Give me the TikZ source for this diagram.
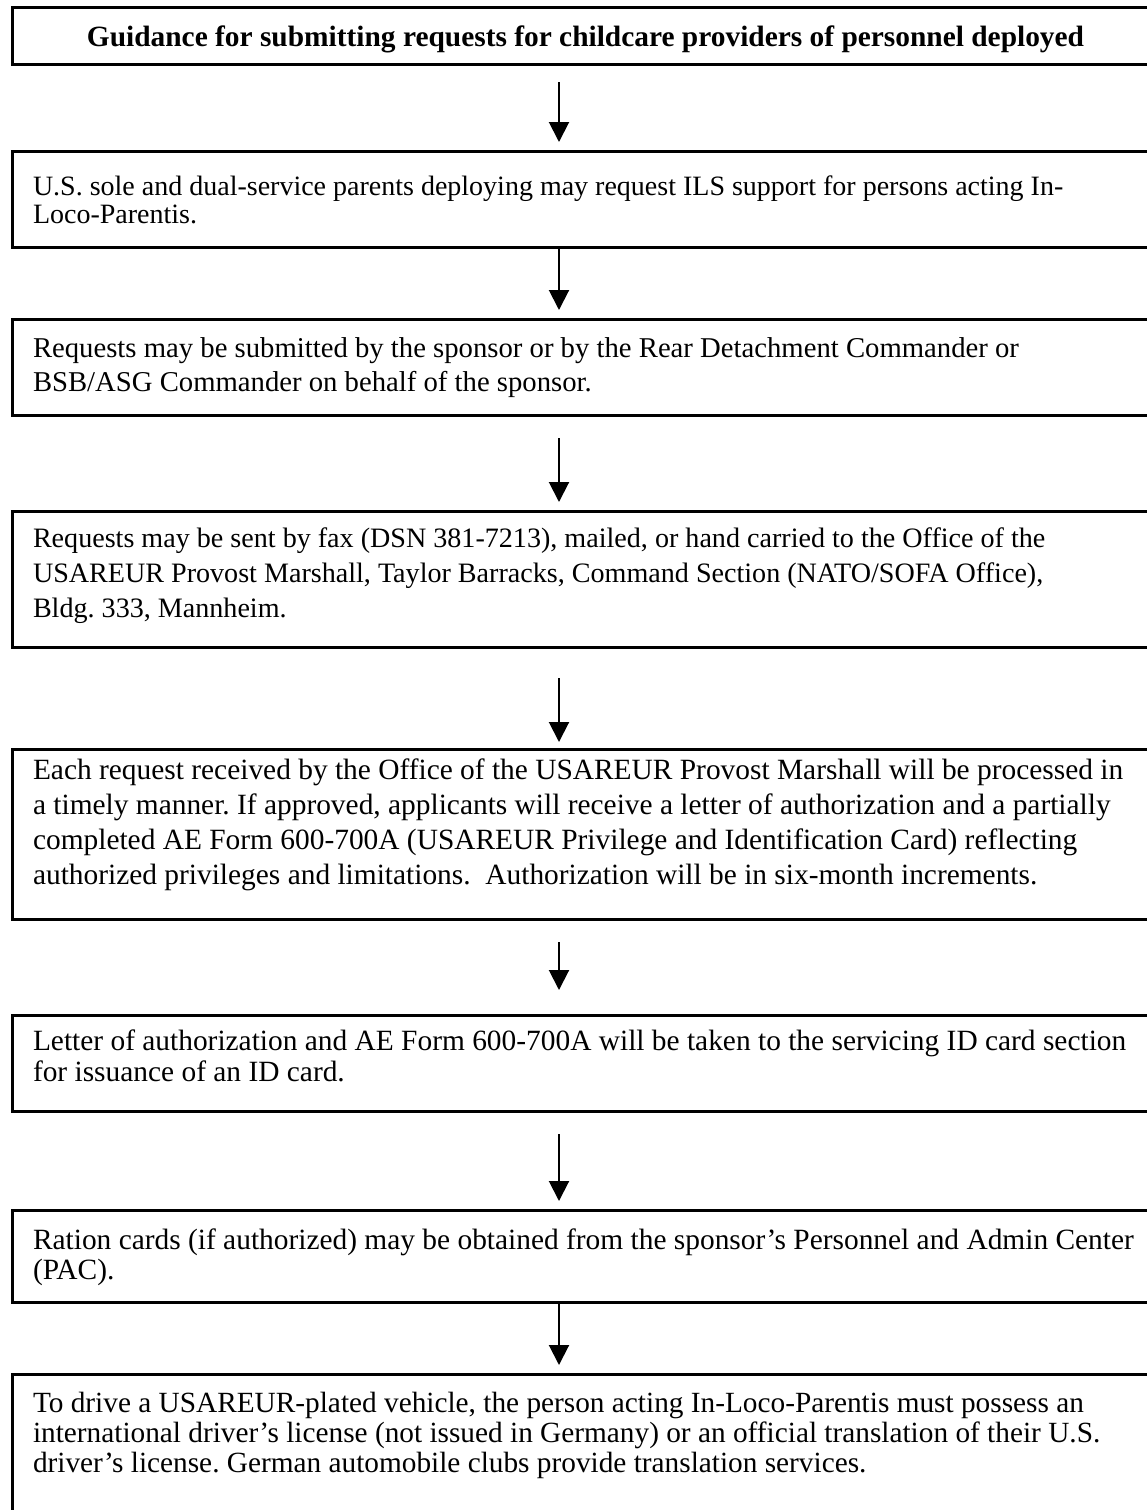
\documentclass[tikz,border=0pt]{standalone}
\usepackage{fontspec}
\setmainfont{Liberation Serif}
\usetikzlibrary{arrows.meta}
\frenchspacing

% flow chart of the ILS request procedure
\tikzset{
  stepbox/.style={draw, line width=3pt, rectangle, inner sep=0pt, outer sep=0pt,
    minimum width=1147pt, anchor=north west},
  steptext/.style={anchor=base west, inner sep=0pt, outer sep=0pt},
  flow/.style={line width=2pt, -{Triangle[length=20pt, width=20pt]}},
}
% #1 font size, #2 line distance, #3 lines
\newcommand{\boxtext}[3]{\parbox[t]{1120pt}{\fontsize{#1}{#2}\selectfont #3}}

\begin{document}
\begin{tikzpicture}[x=1pt, y=-1pt]
  \useasboundingbox (0,0) rectangle (1147,1510);
  \fill[white] (0,0) rectangle (1147,1510);
  \clip (0,0) rectangle (1147,1510);

  \coordinate (ax) at (559,0);

  % boxes
  \node[stepbox, minimum height=57pt]  (b1) at (12,7)    {};
  \node[stepbox, minimum height=96pt]  (b2) at (12,151)  {};
  \node[stepbox, minimum height=96pt]  (b3) at (12,319)  {};
  \node[stepbox, minimum height=136pt] (b4) at (12,511)  {};
  \node[stepbox, minimum height=170pt] (b5) at (12,749)  {};
  \node[stepbox, minimum height=96pt]  (b6) at (12,1015) {};
  \node[stepbox, minimum height=92pt]  (b7) at (12,1210) {};
  \node[stepbox, minimum height=170pt] (b8) at (12,1374) {};

  % texts
  \node[inner sep=0pt, anchor=base] (t1) at (585.5,46)
    {\fontsize{29.4}{34}\selectfont\bfseries Guidance for submitting requests for childcare providers of personnel deployed};
  \node[steptext] (t2) at (33,195) {\boxtext{28}{28}{U.S. sole and dual-service parents deploying may request ILS support for persons acting In-\\Loco-Parentis.}};
  \node[steptext] (t3) at (33,357) {\boxtext{28.7}{34}{Requests may be submitted by the sponsor or by the Rear Detachment Commander or\\BSB/ASG Commander on behalf of the sponsor.}};
  \node[steptext] (t4) at (33,547) {\boxtext{28.1}{35}{Requests may be sent by fax (DSN 381-7213), mailed, or hand carried to the Office of the\\USAREUR Provost Marshall, Taylor Barracks, Command Section (NATO/SOFA Office),\\Bldg. 333, Mannheim.}};
  \node[steptext] (t5) at (33,779) {\boxtext{29.4}{35}{Each request received by the Office of the USAREUR Provost Marshall will be processed in\\a timely manner. If approved, applicants will receive a letter of authorization and a partially\\completed AE Form 600-700A (USAREUR Privilege and Identification Card) reflecting\\authorized privileges and limitations.\ \ Authorization will be in six-month increments.}};
  \node[steptext] (t6) at (33,1050) {\boxtext{29.4}{31}{Letter of authorization and AE Form 600-700A will be taken to the servicing ID card section\\for issuance of an ID card.}};
  \node[steptext] (t7) at (33,1249) {\boxtext{29.4}{30}{Ration cards (if authorized) may be obtained from the sponsor’s Personnel and Admin Center\\(PAC).}};
  \node[steptext] (t8) at (33,1412) {\boxtext{29.3}{30}{To drive a USAREUR-plated vehicle, the person acting In-Loco-Parentis must possess an\\international driver’s license (not issued in Germany) or an official translation of their U.S.\\driver’s license. German automobile clubs provide translation services.}};

  % connectors
  \draw[flow, shorten <=18pt, shorten >=9pt] (b1.south -| ax) -- (b2.north -| ax);
  \draw[flow, shorten >=9pt]                 (b2.south -| ax) -- (b3.north -| ax);
  \draw[flow, shorten <=23pt, shorten >=9pt] (b3.south -| ax) -- (b4.north -| ax);
  \draw[flow, shorten <=31pt, shorten >=7pt] (b4.south -| ax) -- (b5.north -| ax);
  \draw[flow, shorten <=23pt, shorten >=25pt] (b5.south -| ax) -- (b6.north -| ax);
  \draw[flow, shorten <=23pt, shorten >=9pt] (b6.south -| ax) -- (b7.north -| ax);
  \draw[flow, shorten >=9pt]                 (b7.south -| ax) -- (b8.north -| ax);
\end{tikzpicture}
\end{document}
